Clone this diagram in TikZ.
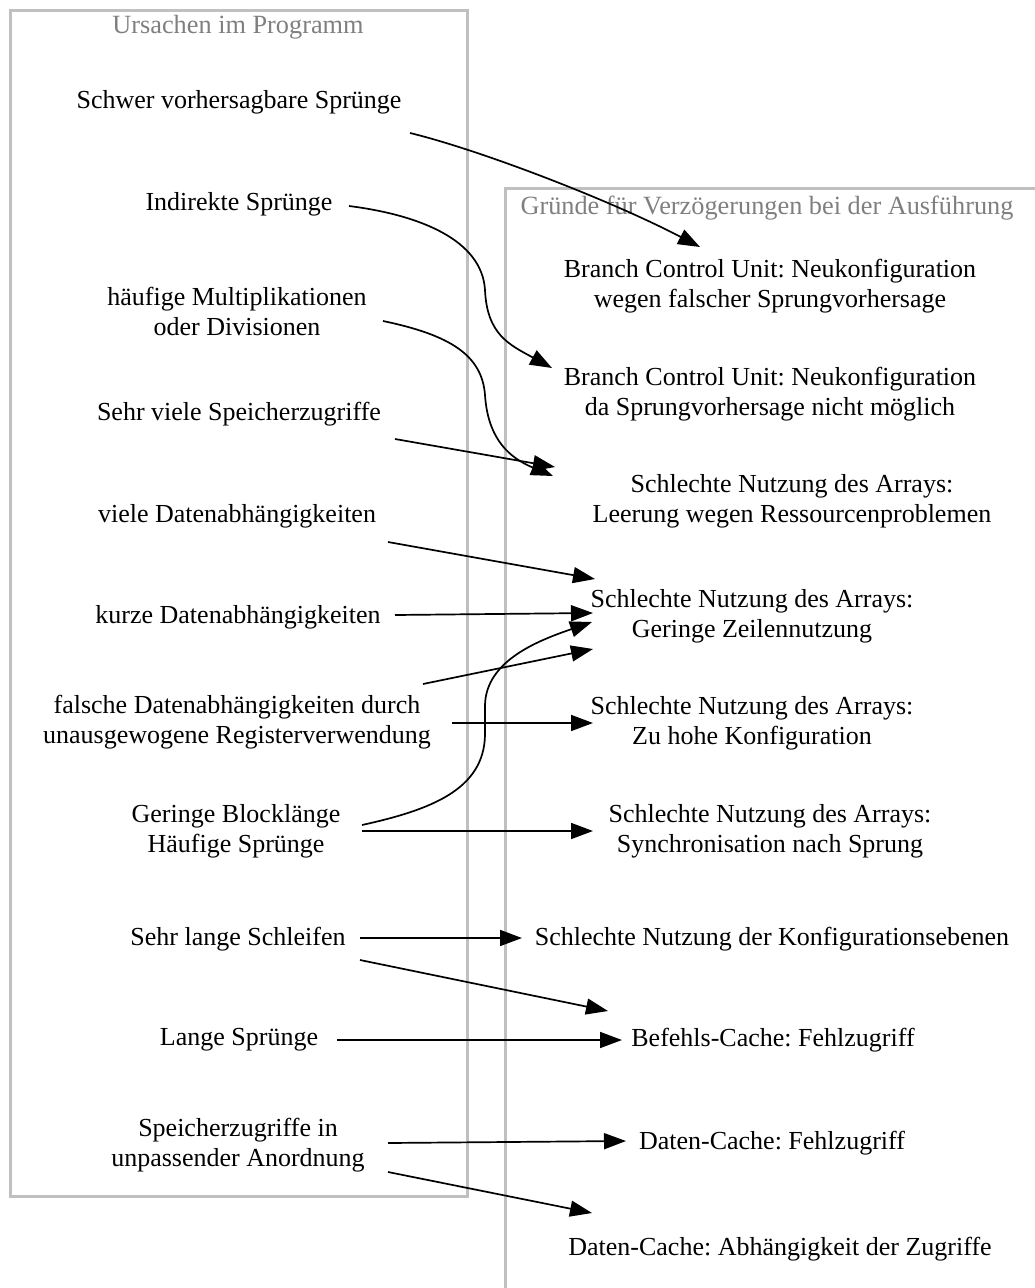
\documentclass[tikz,border=0pt]{standalone}
\usepackage{fontspec}
\setmainfont{Liberation Serif}
\usetikzlibrary{arrows.meta}
\definecolor{boxgray}{HTML}{C0C0C0}
\definecolor{titlegray}{HTML}{7F7F7F}
\frenchspacing
\begin{document}
\begin{tikzpicture}[x=1pt,y=-1pt,
  lbl/.style={align=center, inner sep=0pt, font=\fontsize{26}{30}\selectfont},
  ttl/.style={text=titlegray, inner sep=0pt, font=\fontsize{26.3}{30}\selectfont},
  grp/.style={draw=boxgray, line width=3pt},
  link/.style={line width=1.7pt, -{Triangle[length=22pt,width=16pt]}}]
\useasboundingbox (0,0) rectangle (1035,1288);

% cluster frames
\begin{scope}
  \clip (0,0) rectangle (1035,1288);
  \draw[grp] (10,10) rectangle (467,1196);
  \draw[grp] (505,188) rectangle (1050,1300);
\end{scope}

\node[ttl] (tcause) at (238,27) {Ursachen im Programm};
\node[ttl] (tdelay) at (767,208) {Gründe für Verzögerungen bei der Ausführung};

% causes in the program
\node[lbl] (L1)  at (239,102)  {Schwer vorhersagbare Sprünge};
\node[lbl] (L2)  at (239,204)  {Indirekte Sprünge};
\node[lbl] (L3)  at (237,311)  {häufige Multiplikationen\\oder Divisionen};
\node[lbl] (L4)  at (239,414)  {Sehr viele Speicherzugriffe};
\node[lbl] (L5)  at (237,516)  {viele Datenabhängigkeiten};
\node[lbl] (L6)  at (238,617)  {kurze Datenabhängigkeiten};
\node[lbl] (L7)  at (237,722)  {falsche Datenabhängigkeiten durch\\unausgewogene Registerverwendung};
\node[lbl] (L8)  at (236,831)  {Geringe Blocklänge\\Häufige Sprünge};
\node[lbl] (L9)  at (238,939)  {Sehr lange Schleifen};
\node[lbl] (L10) at (239,1040) {Lange Sprünge};
\node[lbl] (L11) at (238,1145) {Speicherzugriffe in\\unpassender Anordnung};

% reasons for execution delays
\node[lbl] (R1)  at (770,286)  {Branch Control Unit: Neukonfiguration\\wegen falscher Sprungvorhersage};
\node[lbl] (R2)  at (770,394)  {Branch Control Unit: Neukonfiguration\\da Sprungvorhersage nicht möglich};
\node[lbl] (R3)  at (792,501)  {Schlechte Nutzung des Arrays:\\Leerung wegen Ressourcenproblemen};
\node[lbl] (R4)  at (752,616)  {Schlechte Nutzung des Arrays:\\Geringe Zeilennutzung};
\node[lbl] (R5)  at (752,723)  {Schlechte Nutzung des Arrays:\\Zu hohe Konfiguration};
\node[lbl] (R6)  at (770,831)  {Schlechte Nutzung des Arrays:\\Synchronisation nach Sprung};
\node[lbl] (R7)  at (772,939)  {Schlechte Nutzung der Konfigurationsebenen};
\node[lbl] (R8)  at (773,1040) {Befehls-Cache: Fehlzugriff};
\node[lbl] (R9)  at (772,1143) {Daten-Cache: Fehlzugriff};
\node[lbl] (R10) at (780,1249) {Daten-Cache: Abhängigkeit der Zugriffe};

% connectors
\draw[link] ([shift={(171,31)}]L1.center) .. controls (480,150) and (610,200) .. ([shift={(-70,-39)}]R1.center);
\draw[link] ([shift={(110,2)}]L2.center) .. controls (420,215) and (482,240) .. (485,290)
            .. controls (487,335) and (510,345) .. ([shift={(-218,-26)}]R2.center);
\draw[link] ([shift={(146,10)}]L3.center) .. controls (450,335) and (482,355) .. (485,395)
            .. controls (488,440) and (510,458) .. ([shift={(-239,-25)}]R3.center);
\draw[link] ([shift={(156,25)}]L4.center) -- ([shift={(-237,-34)}]R3.center);
\draw[link] ([shift={(151,26)}]L5.center) -- ([shift={(-157,-37)}]R4.center);
\draw[link] ([shift={(157,-2)}]L6.center) -- ([shift={(-159,-3)}]R4.center);
\draw[link] ([shift={(186,-38)}]L7.center) -- ([shift={(-159,33)}]R4.center);
\draw[link] ([shift={(126,-6)}]L8.center) .. controls (430,810) and (484,790) .. (485,735)
            -- (485,705) .. controls (486,660) and (540,640) .. ([shift={(-160,6)}]R4.center);
\draw[link] ([shift={(215,1)}]L7.center) -- ([shift={(-159,0)}]R5.center);
\draw[link] ([shift={(126,0)}]L8.center) -- ([shift={(-177,0)}]R6.center);
\draw[link] ([shift={(122,-1)}]L9.center) -- ([shift={(-250,-1)}]R7.center);
\draw[link] ([shift={(122,21)}]L9.center) -- ([shift={(-165,-29)}]R8.center);
\draw[link] ([shift={(98,0)}]L10.center) -- ([shift={(-151,0)}]R8.center);
\draw[link] ([shift={(150,-2)}]L11.center) -- ([shift={(-146,-2)}]R9.center);
\draw[link] ([shift={(150,27)}]L11.center) -- ([shift={(-188,-36)}]R10.center);
\end{tikzpicture}
\end{document}
